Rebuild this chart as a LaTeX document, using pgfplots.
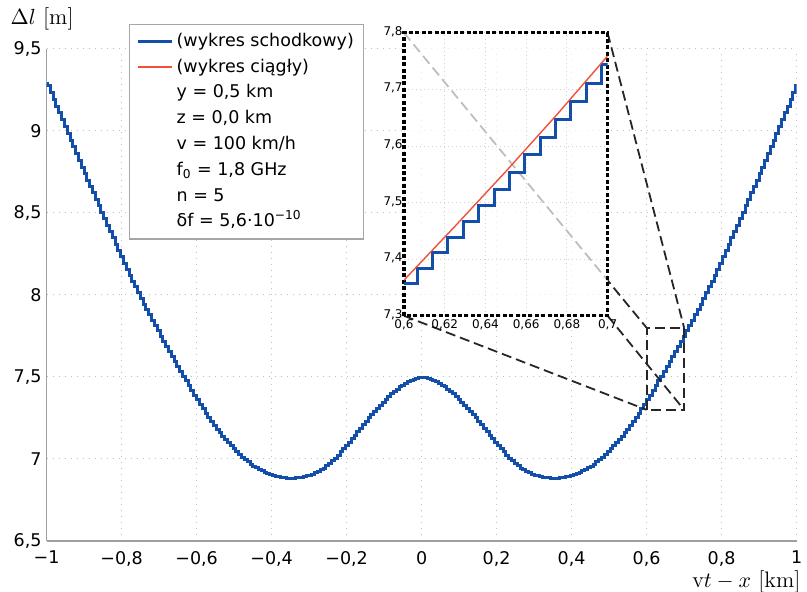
\documentclass[border=0pt]{standalone}
\usepackage{fontspec}
\usepackage{pgfplots}
\pgfplotsset{compat=1.18}
\newfontfamily\dejavu{DejaVu Sans}
\definecolor{stepblue}{RGB}{18,78,170}
\definecolor{linered}{RGB}{240,80,60}
\newcommand\legfont{\dejavu\fontsize{8.75}{10}\selectfont}
\newcommand\tickfont{\dejavu\fontsize{8.75}{10}\selectfont}
\newcommand\smallfont{\dejavu\fontsize{6}{7}\selectfont}
\tikzset{zoomdash/.style={draw=black!85, line width=0.9pt, dash pattern=on 5pt off 2.5pt}}

\begin{document}
\begin{tikzpicture}
\path[use as bounding box] (-23.3pt,-25.5pt) rectangle (380.2pt,270.5pt);
\begin{axis}[
    name=main, at={(0,0)}, anchor=south west,
    scale only axis, width=375pt, height=246pt,
    xmin=-1, xmax=1, ymin=6.5, ymax=9.5,
    axis x line*=bottom, axis y line*=left,
    axis line style={-, draw=gray!75, line width=0.65pt},
    xtick={-1,-0.8,-0.6,-0.4,-0.2,0,0.2,0.4,0.6,0.8,1},
    xticklabels={−1,{−0,8},{−0,6},{−0,4},{−0,2},0,{0,2},{0,4},{0,6},{0,8},1},
    ytick={6.5,7,7.5,8,8.5,9,9.5},
    yticklabels={{6,5},7,{7,5},8,{8,5},9,{9,5}},
    tick style={draw=none},
    xticklabel style={font=\tickfont, yshift=-1.5pt},
    yticklabel style={font=\tickfont, xshift=1pt},
    grid=major,
    major grid style={gray!50, line width=0.5pt, dash pattern=on 0.5pt off 2.5pt},
    xlabel={v$t-x$ [km]},
    xlabel style={at={(axis description cs:0.933,-0.083)}, anchor=center, inner sep=0pt, font=\fontsize{11.2}{13}\selectfont},
    ylabel={$\Delta l$ [m]},
    ylabel style={rotate=-90, at={(axis description cs:-0.006,1.061)}, anchor=center, font=\fontsize{11.2}{13}\selectfont},
    legend style={at={(axis description cs:0.1097,1.0508)}, anchor=north west,
        draw=gray!70, line width=0.6pt, fill=white, font=\legfont,
        inner xsep=3.5pt, inner ysep=2pt, row sep=0pt,
        nodes={inner xsep=1.5pt, inner ysep=2.05pt, text height=6.8pt, text depth=2pt}},
    legend cell align=left,
]
\addplot[const plot, color=stepblue, line width=1.5pt] coordinates {
(-1.0000,9.289) (-0.9975,9.275) (-0.9900,9.234) (-0.9825,9.193) (-0.9750,9.152)
(-0.9675,9.110) (-0.9600,9.069) (-0.9525,9.028) (-0.9450,8.986) (-0.9375,8.944)
(-0.9300,8.903) (-0.9225,8.862) (-0.9150,8.821) (-0.9075,8.780) (-0.9000,8.739)
(-0.8925,8.700) (-0.8850,8.661) (-0.8775,8.622) (-0.8700,8.583) (-0.8625,8.544)
(-0.8550,8.505) (-0.8475,8.466) (-0.8400,8.426) (-0.8325,8.387) (-0.8250,8.348)
(-0.8175,8.309) (-0.8100,8.270) (-0.8025,8.232) (-0.7950,8.194) (-0.7875,8.157)
(-0.7800,8.120) (-0.7725,8.084) (-0.7650,8.049) (-0.7575,8.014) (-0.7500,7.979)
(-0.7425,7.945) (-0.7350,7.912) (-0.7275,7.879) (-0.7200,7.846) (-0.7125,7.813)
(-0.7050,7.781) (-0.6975,7.749) (-0.6900,7.718) (-0.6825,7.687) (-0.6750,7.657)
(-0.6675,7.626) (-0.6600,7.596) (-0.6525,7.566) (-0.6450,7.536) (-0.6375,7.506)
(-0.6300,7.476) (-0.6225,7.447) (-0.6150,7.418) (-0.6075,7.389) (-0.6000,7.360)
(-0.5925,7.333) (-0.5850,7.306) (-0.5775,7.279) (-0.5700,7.253) (-0.5625,7.228)
(-0.5550,7.203) (-0.5475,7.180) (-0.5400,7.159) (-0.5325,7.139) (-0.5250,7.119)
(-0.5175,7.100) (-0.5100,7.081) (-0.5025,7.063) (-0.4950,7.045) (-0.4875,7.028)
(-0.4800,7.011) (-0.4725,6.996) (-0.4650,6.982) (-0.4575,6.969) (-0.4500,6.957)
(-0.4425,6.947) (-0.4350,6.937) (-0.4275,6.928) (-0.4200,6.920) (-0.4125,6.913)
(-0.4050,6.906) (-0.3975,6.901) (-0.3900,6.896) (-0.3825,6.892) (-0.3750,6.889)
(-0.3675,6.886) (-0.3600,6.884) (-0.3525,6.883) (-0.3450,6.884) (-0.3375,6.885)
(-0.3300,6.887) (-0.3225,6.890) (-0.3150,6.894) (-0.3075,6.898) (-0.3000,6.902)
(-0.2925,6.908) (-0.2850,6.915) (-0.2775,6.923) (-0.2700,6.933) (-0.2625,6.945)
(-0.2550,6.959) (-0.2475,6.975) (-0.2400,6.989) (-0.2325,7.006) (-0.2250,7.024)
(-0.2175,7.043) (-0.2100,7.062) (-0.2025,7.082) (-0.1950,7.103) (-0.1875,7.124)
(-0.1800,7.145) (-0.1725,7.166) (-0.1650,7.187) (-0.1575,7.208) (-0.1500,7.229)
(-0.1425,7.250) (-0.1350,7.271) (-0.1275,7.291) (-0.1200,7.310) (-0.1125,7.329)
(-0.1050,7.347) (-0.0975,7.365) (-0.0900,7.382) (-0.0825,7.398) (-0.0750,7.413)
(-0.0675,7.426) (-0.0600,7.439) (-0.0525,7.450) (-0.0450,7.461) (-0.0375,7.470)
(-0.0300,7.478) (-0.0225,7.485) (-0.0150,7.490) (-0.0075,7.494)
(0.0000,7.495)
(0.0075,7.494) (0.0150,7.490) (0.0225,7.485) (0.0300,7.478) (0.0375,7.470)
(0.0450,7.461) (0.0525,7.450) (0.0600,7.439) (0.0675,7.426) (0.0750,7.413)
(0.0825,7.398) (0.0900,7.382) (0.0975,7.365) (0.1050,7.347) (0.1125,7.329)
(0.1200,7.310) (0.1275,7.291) (0.1350,7.271) (0.1425,7.250) (0.1500,7.229)
(0.1575,7.208) (0.1650,7.187) (0.1725,7.166) (0.1800,7.145) (0.1875,7.124)
(0.1950,7.103) (0.2025,7.082) (0.2100,7.062) (0.2175,7.043) (0.2250,7.024)
(0.2325,7.006) (0.2400,6.989) (0.2475,6.975) (0.2550,6.959) (0.2625,6.945)
(0.2700,6.933) (0.2775,6.923) (0.2850,6.915) (0.2925,6.908) (0.3000,6.902)
(0.3075,6.898) (0.3150,6.894) (0.3225,6.890) (0.3300,6.887) (0.3375,6.885)
(0.3450,6.884) (0.3525,6.883) (0.3600,6.884) (0.3675,6.886) (0.3750,6.889)
(0.3825,6.892) (0.3900,6.896) (0.3975,6.901) (0.4050,6.906) (0.4125,6.913)
(0.4200,6.920) (0.4275,6.928) (0.4350,6.937) (0.4425,6.947) (0.4500,6.957)
(0.4575,6.969) (0.4650,6.982) (0.4725,6.996) (0.4800,7.011) (0.4875,7.028)
(0.4950,7.045) (0.5025,7.063) (0.5100,7.081) (0.5175,7.100) (0.5250,7.119)
(0.5325,7.139) (0.5400,7.159) (0.5475,7.180) (0.5550,7.203) (0.5625,7.228)
(0.5700,7.253) (0.5775,7.279) (0.5850,7.306) (0.5925,7.333) (0.6000,7.360)
(0.6075,7.389) (0.6150,7.418) (0.6225,7.447) (0.6300,7.476) (0.6375,7.506)
(0.6450,7.536) (0.6525,7.566) (0.6600,7.596) (0.6675,7.626) (0.6750,7.657)
(0.6825,7.687) (0.6900,7.718) (0.6975,7.749) (0.7050,7.781) (0.7125,7.813)
(0.7200,7.846) (0.7275,7.879) (0.7350,7.912) (0.7425,7.945) (0.7500,7.979)
(0.7575,8.014) (0.7650,8.049) (0.7725,8.084) (0.7800,8.120) (0.7875,8.157)
(0.7950,8.194) (0.8025,8.232) (0.8100,8.270) (0.8175,8.309) (0.8250,8.348)
(0.8325,8.387) (0.8400,8.426) (0.8475,8.466) (0.8550,8.505) (0.8625,8.544)
(0.8700,8.583) (0.8775,8.622) (0.8850,8.661) (0.8925,8.700) (0.9000,8.739)
(0.9075,8.780) (0.9150,8.821) (0.9225,8.862) (0.9300,8.903) (0.9375,8.944)
(0.9450,8.986) (0.9525,9.028) (0.9600,9.069) (0.9675,9.110) (0.9750,9.152)
(0.9825,9.193) (0.9900,9.234) (0.9975,9.275) (1.0000,9.289)
};
\addlegendentry{(wykres schodkowy)}
\addlegendimage{color=linered, line width=1pt}
\addlegendentry{(wykres ciągły)}
\addlegendimage{empty legend}\addlegendentry{y = 0,5 km}
\addlegendimage{empty legend}\addlegendentry{z = 0,0 km}
\addlegendimage{empty legend}\addlegendentry{v = 100 km/h}
\addlegendimage{empty legend}\addlegendentry{f\textsubscript{0} = 1,8 GHz}
\addlegendimage{empty legend}\addlegendentry{n = 5}
\addlegendimage{empty legend}\addlegendentry{δf = 5,6·10\textsuperscript{−10}}
\draw[zoomdash] (axis cs:0.6,7.3) rectangle (axis cs:0.7,7.8);
\coordinate (zTL) at (axis cs:0.6,7.8);
\coordinate (zTR) at (axis cs:0.7,7.8);
\coordinate (zBL) at (axis cs:0.6,7.3);
\coordinate (zBR) at (axis cs:0.7,7.3);
\end{axis}

% lines from the corners of the inset to the zoomed box
\draw[zoomdash] (178.7pt,254.1pt) -- (zTL);
\draw[zoomdash] (280.5pt,254.1pt) -- (zTR);
\draw[zoomdash] (178.7pt,112.6pt) -- (zBL);
\draw[zoomdash] (280.5pt,112.6pt) -- (zBR);

\begin{axis}[
    name=inset, at={(178.7pt,112.6pt)}, anchor=south west,
    scale only axis, width=101.8pt, height=141.5pt,
    xmin=0.6, xmax=0.7, ymin=7.3, ymax=7.8,
    xtick={0.6,0.62,0.64,0.66,0.68,0.7},
    xticklabels={{0,6},{0,62},{0,64},{0,66},{0,68},{0,7}},
    ytick={7.3,7.4,7.5,7.6,7.7,7.8},
    yticklabels={{7,3},{7,4},{7,5},{7,6},{7,7},{7,8}},
    tick style={draw=none},
    ticklabel style={font=\smallfont, inner sep=0.5pt},
    xticklabel style={yshift=-1.2pt},
    yticklabel style={yshift=0.6pt},
    grid=major,
    major grid style={gray!35, line width=0.4pt, dash pattern=on 0.5pt off 1.5pt},
    axis line style={black, line width=1.6pt, dash pattern=on 2pt off 1.2pt},
    axis background/.style={fill=white, fill opacity=0.7},
]
\addplot[const plot, color=stepblue, line width=1.5pt] coordinates {
(0.6000,7.357) (0.6066,7.384) (0.6141,7.412) (0.6216,7.438) (0.6292,7.466)
(0.6367,7.495) (0.6443,7.524) (0.6518,7.553) (0.6593,7.585) (0.6669,7.615)
(0.6744,7.646) (0.6819,7.678) (0.6895,7.710) (0.6970,7.744) (0.7000,7.744)
};
\addplot[color=linered, line width=0.7pt] coordinates {
(0.600,7.363) (0.625,7.458) (0.650,7.555) (0.675,7.655) (0.700,7.759)
};
\end{axis}
\end{tikzpicture}
\end{document}
